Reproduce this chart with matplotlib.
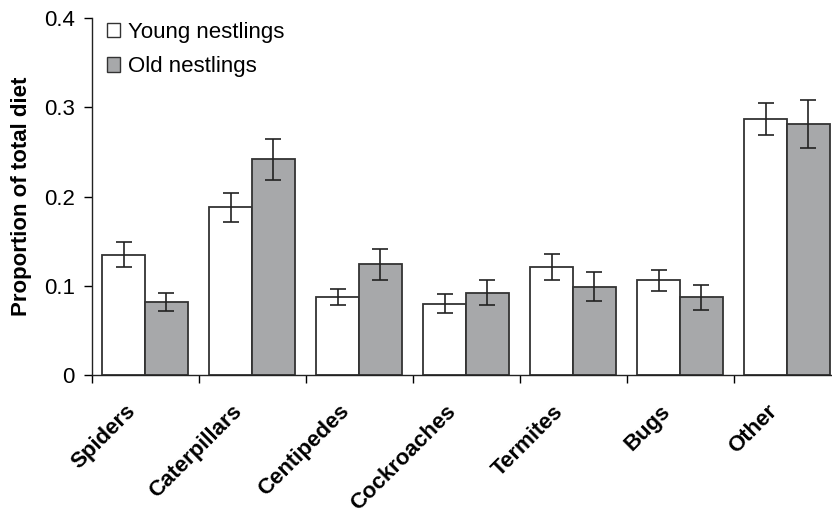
import numpy as np
import matplotlib.pyplot as plt
import matplotlib.transforms as mtransforms
from matplotlib.patches import Patch

categories = ['Spiders', 'Caterpillars', 'Centipedes', 'Cockroaches', 'Termites', 'Bugs', 'Other']
young = [0.135, 0.188, 0.087, 0.080, 0.121, 0.106, 0.287]
young_err = [0.014, 0.016, 0.009, 0.011, 0.015, 0.012, 0.018]
old = [0.082, 0.242, 0.124, 0.092, 0.099, 0.087, 0.281]
old_err = [0.010, 0.023, 0.017, 0.014, 0.016, 0.014, 0.027]

plt.rcParams['font.family'] = ['Liberation Sans', 'DejaVu Sans']

fig = plt.figure(figsize=(8.32, 5.15), dpi=100)
ax = fig.add_axes([0.110, 0.2718, 0.890, 0.6932])

x = np.arange(len(categories))
w = 0.4
edge = '#333333'
ax.bar(x - w / 2, young, w, color='white', edgecolor=edge, linewidth=1.3,
       yerr=young_err, error_kw=dict(ecolor='#222222', elinewidth=1.2, capsize=6, capthick=1.2),
       label='Young nestlings', zorder=2)
ax.bar(x + w / 2, old, w, color='#a7a8aa', edgecolor=edge, linewidth=1.3,
       yerr=old_err, error_kw=dict(ecolor='#222222', elinewidth=1.2, capsize=6, capthick=1.2),
       label='Old nestlings', zorder=2)

ax.set_xlim(-0.5, -0.5 + 740.5 / 107)
ax.set_ylim(0, 0.4)
ax.set_yticks([0, 0.1, 0.2, 0.3, 0.4])
ax.set_yticklabels(['0', '0.1', '0.2', '0.3', '0.4'], fontsize=16)
ax.tick_params(axis='y', direction='out', length=6, width=1, pad=6)

ax.set_xticks(x)
ax.set_xticklabels(categories, rotation=45, ha='right', va='center', rotation_mode='anchor',
                   fontsize=16, fontweight='bold')
ax.tick_params(axis='x', which='major', length=0, pad=24)
shift = mtransforms.ScaledTranslation(-13 / 100, 0, fig.dpi_scale_trans)
for lab in ax.get_xticklabels():
    lab.set_transform(lab.get_transform() + shift)
ax.set_xticks(np.arange(len(categories)) - 0.5, minor=True)
ax.tick_params(axis='x', which='minor', direction='out', length=6, width=1)

for s in ['top', 'right']:
    ax.spines[s].set_visible(False)
for s in ['left', 'bottom']:
    ax.spines[s].set_linewidth(1)
    ax.spines[s].set_color('#222222')

ax.set_ylabel('Proportion of total diet', fontsize=16, fontweight='bold', labelpad=8.5)

handles = [Patch(facecolor='white', edgecolor=edge, linewidth=1),
           Patch(facecolor='#a7a8aa', edgecolor=edge, linewidth=1)]
ax.legend(handles, ['Young nestlings', 'Old nestlings'], loc='upper left',
          bbox_to_anchor=(-0.006, 1.045), frameon=False, fontsize=16,
          handlelength=0.6, handleheight=0.6, handletextpad=0.35, labelspacing=0.6)

fig.savefig('out.png', dpi=100)
